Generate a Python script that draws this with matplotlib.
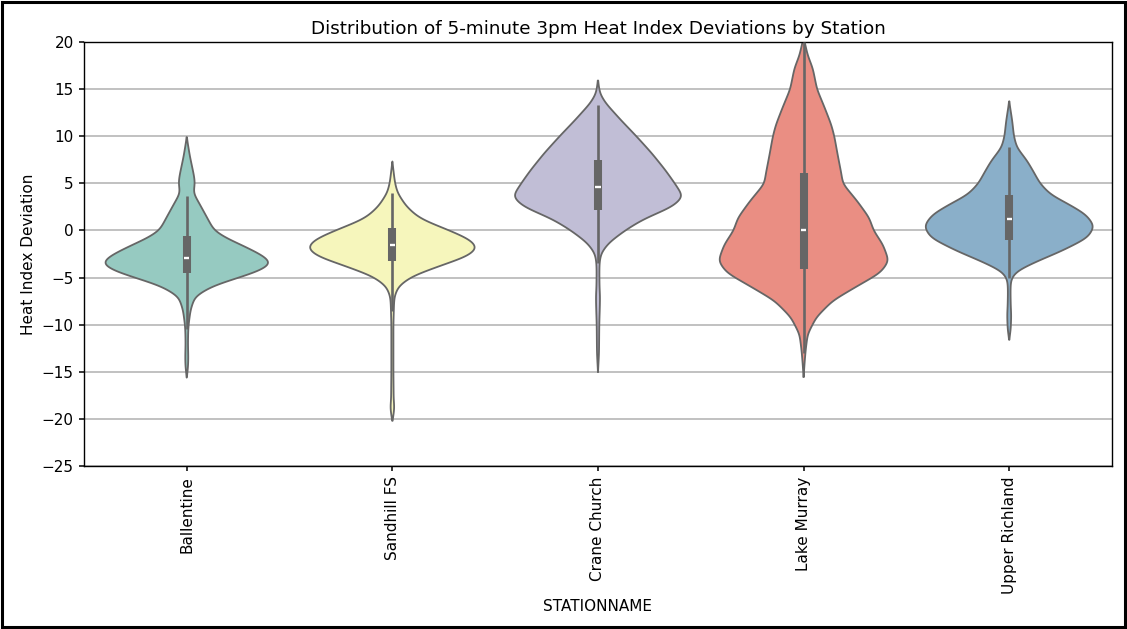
import colorsys
import numpy as np
import matplotlib
matplotlib.use("Agg")
import matplotlib.pyplot as plt
from matplotlib.patches import Rectangle

stations = ["Ballentine", "Sandhill FS", "Crane Church", "Lake Murray", "Upper Richland"]
palette = ["#8dd3c7", "#ffffb3", "#bebada", "#fb8072", "#80b1d3"]

# density profiles: deviation level -> relative violin width (1 = widest)
ballentine_lvl = [-15.6, -14.5, -13.5, -12, -10.5, -9.8, -8.4, -7.0, -5.9, -5.0, -4.3, -3.5, -2.7,
                  -1.66, -0.8, 0, 1.5, 2.9, 4.0, 5.0, 5.8, 7.9, 9.9]
ballentine_den = [0, 0.015, 0.018, 0.014, 0.017, 0.024, 0.045, 0.097, 0.30, 0.61, 0.85, 1.0, 0.90,
                  0.67, 0.46, 0.32, 0.23, 0.145, 0.076, 0.097, 0.085, 0.036, 0]

sandhill_lvl = [-20.2, -19.5, -18.7, -18, -15, -10, -8, -7, -5.9, -4.86, -3.8, -2.73, -1.84,
                -0.96, 0, 1.0, 1.5, 2.6, 4.0, 5.07, 7.3]
sandhill_den = [0, 0.015, 0.024, 0.015, 0.012, 0.012, 0.018, 0.024, 0.073, 0.23, 0.545, 0.885, 1.0,
                0.91, 0.67, 0.39, 0.29, 0.16, 0.06, 0.03, 0]

crane_lvl = [-15.07, -13, -10, -8, -7, -6, -4.5, -3.4, -2.4, -1.3, 0, 1.15, 2.55, 3.6, 5, 6.4,
             8.2, 10, 11.7, 13.5, 14.5, 15.9]
crane_den = [0, 0.012, 0.015, 0.022, 0.024, 0.018, 0.016, 0.018, 0.037, 0.128, 0.317, 0.524, 0.878,
             1.0, 0.90, 0.79, 0.63, 0.45, 0.27, 0.091, 0.024, 0]

murray_lvl = [-15.6, -14, -12.7, -11, -9.2, -7.46, -6.06, -4.5, -3.24, -1.5, 0, 1.34, 3.1, 4.96,
              5.9, 8, 10, 11.2, 12.96, 15, 17.2, 18.6, 20.5]
murray_den = [0, 0.012, 0.024, 0.048, 0.15, 0.34, 0.60, 0.90, 1.0, 0.93, 0.82, 0.77, 0.63, 0.46,
              0.445, 0.40, 0.36, 0.325, 0.25, 0.157, 0.108, 0.048, 0]

richland_lvl = [-11.6, -10.5, -9, -8, -6.5, -5.5, -5, -4.3, -3.26, -2.2, -0.78, 0.46, 1.7, 2.77,
                3.8, 5, 6, 7.4, 8.8, 10, 11.6, 13.7]
richland_den = [0, 0.018, 0.024, 0.018, 0.015, 0.018, 0.03, 0.09, 0.33, 0.61, 0.92, 1.0, 0.90, 0.70,
                0.485, 0.36, 0.30, 0.21, 0.09, 0.055, 0.036, 0]

levels = [ballentine_lvl, sandhill_lvl, crane_lvl, murray_lvl, richland_lvl]
densities = [ballentine_den, sandhill_den, crane_den, murray_den, richland_den]

# box summary: lower whisker, q1, median, q3, upper whisker
whisker_lo = [-10.5, -8.6, -3.5, -13.0, -5.0]
q1 = [-4.56, -3.26, 2.2, -4.1, -0.96]
median = [-2.93, -1.56, 4.57, 0.1, 1.17]
q3 = [-0.6, 0.28, 7.5, 6.1, 3.76]
whisker_hi = [3.7, 3.94, 13.3, 20.0, 8.9]


def desaturate(hexcol, prop=0.75):
    r, g, b = matplotlib.colors.to_rgb(hexcol)
    h, l, s = colorsys.rgb_to_hls(r, g, b)
    return colorsys.hls_to_rgb(h, l, s * prop)


def outline(lvl, den, step=0.02, sigma=0.4):
    # rounded outline through the profile points
    lvl = np.asarray(lvl, float)
    den = np.asarray(den, float)
    yy = np.arange(lvl[0], lvl[-1] + step, step)
    ww = np.interp(yy, lvl, den)
    m = int(3 * sigma / step)
    t = np.arange(-m, m + 1) * step
    k = np.exp(-0.5 * (t / sigma) ** 2)
    k /= k.sum()
    ww = np.convolve(np.pad(ww, m, mode="constant"), k, mode="valid")
    ww[0] = ww[-1] = 0
    return yy, ww


plt.rcParams["font.size"] = 11
fig = plt.figure(figsize=(11.27, 6.29), dpi=100)
ax = fig.add_axes([0.0745, 0.2591, 0.9122, 0.6741])

half = 0.415
edge = "#666666"
for i, name in enumerate(stations):
    yy, ww = outline(levels[i], densities[i])
    xs = np.concatenate([i - ww * half, (i + ww * half)[::-1]])
    ys = np.concatenate([yy, yy[::-1]])
    ax.fill(xs, ys, facecolor=desaturate(palette[i]), edgecolor=edge, lw=1.3, zorder=2)
    ax.plot([i, i], [whisker_lo[i], whisker_hi[i]], color=edge, lw=1.9,
            solid_capstyle="butt", zorder=3)
    ax.plot([i, i], [q1[i], q3[i]], color=edge, lw=5.8, solid_capstyle="butt", zorder=3)
    ax.plot([i - 0.013, i + 0.013], [median[i], median[i]], color="white", lw=1.7,
            solid_capstyle="butt", zorder=4)

ax.set_xlim(-0.5, 4.5)
ax.set_ylim(-25, 20)
ax.set_yticks(np.arange(-25, 21, 5))
ax.set_xticks(range(len(stations)))
ax.set_xticklabels(stations, rotation=90)
ax.tick_params(width=1.1, length=3.9)
for s in ax.spines.values():
    s.set_linewidth(1.0)
ax.yaxis.grid(True, color="#b0b0b0", lw=1.1, zorder=0)
ax.set_axisbelow(True)
ax.set_title("Distribution of 5-minute 3pm Heat Index Deviations by Station", fontsize=13.2)
ax.set_xlabel("STATIONNAME")
ax.set_ylabel("Heat Index Deviation")

fig.patches.append(Rectangle((0.002, 0.003), 0.996, 0.994, transform=fig.transFigure,
                             fill=False, ec="black", lw=2.2))

fig.savefig("out.png", dpi=100)
